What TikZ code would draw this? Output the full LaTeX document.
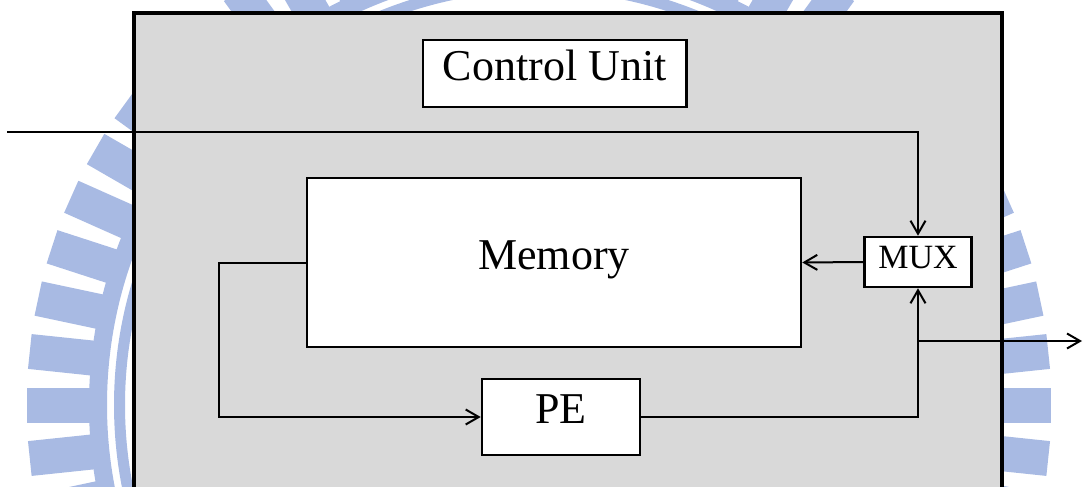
\documentclass[tikz,border=0pt]{standalone}
\usepackage{fontspec}
\setmainfont{Liberation Serif}
\usetikzlibrary{arrows.meta,calc}
\definecolor{chipgray}{RGB}{217,217,217}
\definecolor{sealblue}{RGB}{168,186,227}
\begin{document}
\begin{tikzpicture}[x=0.5pt,y=-0.5pt,
  block/.style={draw=black, line width=1.3pt, fill=white, inner sep=0pt,
    text height=0.66em, text depth=0pt, font=\fontsize{22}{26}\selectfont},
  wire/.style={line width=1pt},
  tip/.style={-{Straight Barb[length=6.5pt,width=7.5pt,line width=1pt]}}
]
\useasboundingbox (0,0) rectangle (1083,487);
\clip (0,0) rectangle (1083,487);

% faint seal in the background: ring of radial bars and two thin rings
\begin{scope}[shift={(539,405)}, sealblue]
  \foreach \a in {0,6,...,354}
    \draw[line width=17.5pt] (\a:448) -- (\a:512);
  \draw[line width=9pt] (0,0) circle[radius=220.5pt];
  \draw[line width=5.5pt] (0,0) circle[radius=209.75pt];
\end{scope}

% processor block
\node[draw=black, line width=1.6pt, fill=chipgray, inner sep=0pt,
      minimum width=434pt, minimum height=263.5pt] (chip) at (568,276.5) {};

\node[block, minimum width=131.75pt, minimum height=33.5pt] (ctrl) at (554.75,73.5) {Control Unit};
\node[block, minimum width=247pt, minimum height=84.5pt] (mem) at (554,262.5) {Memory};
\node[block, minimum width=53.5pt, minimum height=25pt,
      font=\fontsize{17}{20}\selectfont] (mux) at (918,262) {MUX};
\node[block, minimum width=79pt, minimum height=38pt] (pe) at (561,417) {PE};

% wiring
\coordinate (din) at (7,132);
\coordinate (loop) at (219,262.5);
\coordinate (tap) at (918,341);
\coordinate (dout) at (1082,341);

\draw[wire,tip] (din) -| (mux.north);
\draw[wire,tip] (mux.west) -- (mem.east);
\draw[wire,tip] (mem.west) -- (loop) |- (pe.west);
\draw[wire,tip] (pe.east) -| (mux.south);
\draw[wire,tip] (tap) -- (dout);
\end{tikzpicture}
\end{document}
